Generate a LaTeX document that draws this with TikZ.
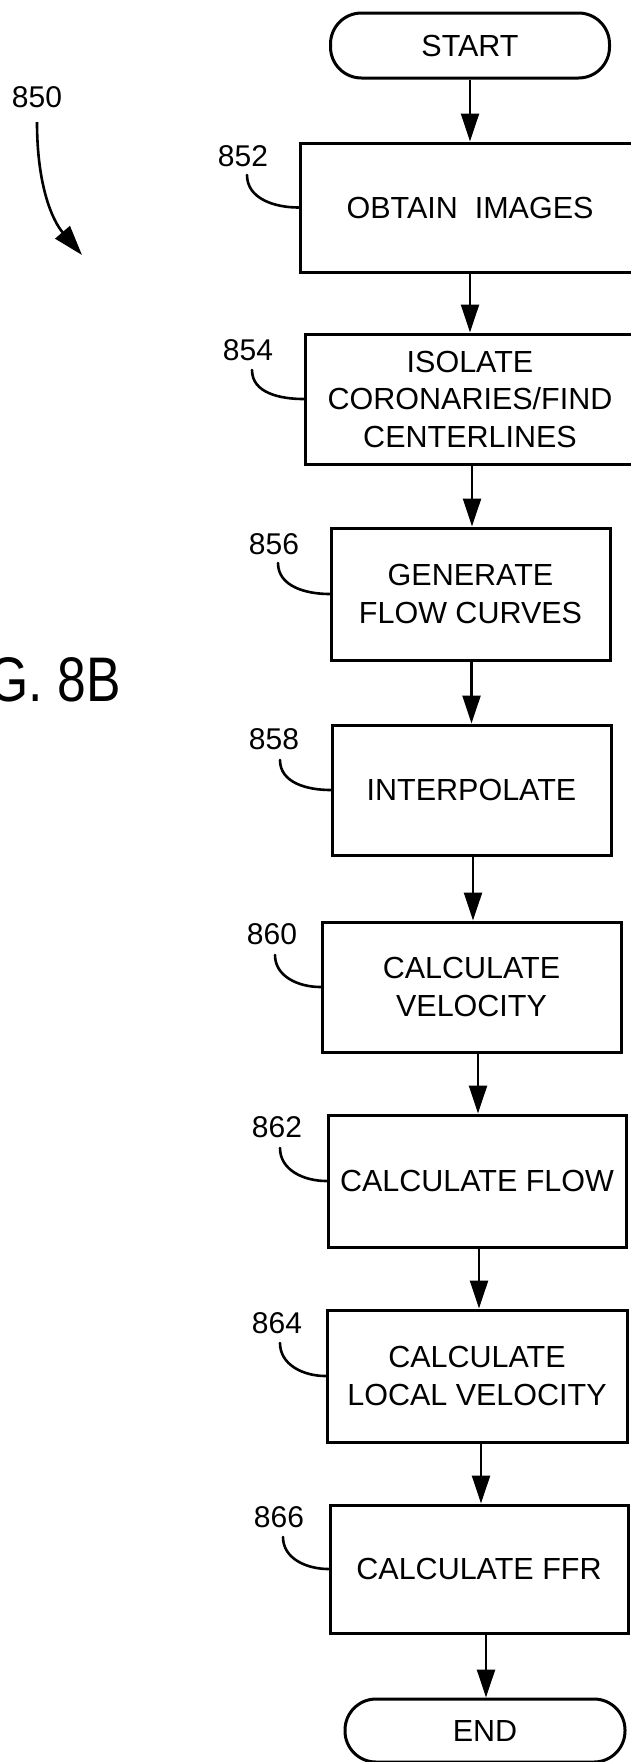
\documentclass[tikz,border=0pt]{standalone}
\usepackage{fontspec}
\setmainfont{Liberation Sans}
\usetikzlibrary{arrows.meta}
\begin{document}
\begin{tikzpicture}[x=1pt,y=-1pt,
  stepbox/.style={draw, line width=3pt, align=center, inner sep=0pt,
    font=\fontsize{30.5}{37.5}\selectfont},
  terminal/.style={stepbox, rounded corners=31pt},
  reflabel/.style={inner sep=0pt, font=\fontsize{30}{36}\selectfont},
  flow/.style={line width=2.4pt, -{Triangle[length=28pt,width=18pt]}},
  leader/.style={line width=2.6pt, line cap=round}]
  % page
  \fill[white] (0,0) rectangle (631,1762);
  \useasboundingbox (0,0) rectangle (631,1762);

  % figure title and overall reference
  \node[anchor=east, inner sep=0pt, font=\fontsize{63}{70}\selectfont] (fig) at (121,680)
    {\scalebox{0.82}[1]{FIG. 8B}};
  \node[reflabel] (r850) at (37,97) {850};
  \coordinate (a850s) at (37,122);
  \coordinate (a850e) at (82,255);
  \draw[line width=2.6pt, -{Triangle[length=30pt,width=19pt]}]
    (a850s) .. controls (37,185) and (52,220) .. (a850e);

  % steps
  \node[terminal, minimum width=279pt, minimum height=65pt] (start) at (470,45.5) {START};
  \node[stepbox, minimum width=340pt, minimum height=129pt] (b852) at (470,207.5) {OBTAIN\ \ IMAGES};
  \node[stepbox, minimum width=330pt, minimum height=130pt] (b854) at (470,399) {ISOLATE\\CORONARIES/FIND\\CENTERLINES};
  \node[stepbox, minimum width=279pt, minimum height=132pt] (b856) at (470.5,594) {GENERATE\\FLOW CURVES};
  \node[stepbox, minimum width=279pt, minimum height=130pt] (b858) at (471.5,790) {INTERPOLATE};
  \node[stepbox, minimum width=299pt, minimum height=130pt] (b860) at (471.5,987) {CALCULATE\\VELOCITY};
  \node[stepbox, minimum width=298pt, minimum height=132pt] (b862) at (477,1181) {CALCULATE FLOW};
  \node[stepbox, minimum width=300pt, minimum height=132pt] (b864) at (477,1376) {CALCULATE\\LOCAL VELOCITY};
  \node[stepbox, minimum width=298pt, minimum height=128pt] (b866) at (479,1569) {CALCULATE FFR};
  \node[terminal, minimum width=280pt, minimum height=63pt] (end) at (485,1730.5) {END};

  % connectors
  \draw[flow] (b852.north |- start.south) -- (b852.north);
  \draw[flow] (b854.north |- b852.south) -- (b854.north);
  \draw[flow] ([xshift=1.5pt]b856.north |- b854.south) -- ([xshift=1.5pt]b856.north);
  \draw[flow] (b858.north |- b856.south) -- (b858.north);
  \draw[flow] ([xshift=1.5pt]b860.north |- b858.south) -- ([xshift=1.5pt]b860.north);
  \draw[flow] ([xshift=1pt]b862.north |- b860.south) -- ([xshift=1pt]b862.north);
  \draw[flow] ([xshift=2pt]b864.north |- b862.south) -- ([xshift=2pt]b864.north);
  \draw[flow] ([xshift=2pt]b866.north |- b864.south) -- ([xshift=2pt]b866.north);
  \draw[flow] ([xshift=1pt]end.north |- b866.south) -- ([xshift=1pt]end.north);

  % reference numerals with leaders
  \node[reflabel] (r852) at (243,156) {852};
  \node[reflabel] (r854) at (248,350) {854};
  \node[reflabel] (r856) at (274,544) {856};
  \node[reflabel] (r858) at (274,739) {858};
  \node[reflabel] (r860) at (272,934) {860};
  \node[reflabel] (r862) at (277,1127) {862};
  \node[reflabel] (r864) at (277,1323) {864};
  \node[reflabel] (r866) at (279,1517) {866};
  \coordinate (l852) at (247,175);
  \coordinate (l854) at (252,370);
  \coordinate (l856) at (278,563);
  \coordinate (l858) at (280,760);
  \coordinate (l860) at (275,955);
  \coordinate (l862) at (280,1148);
  \coordinate (l864) at (280,1343);
  \coordinate (l866) at (283,1537);
  \foreach \n in {852,854,856,858,860,862,864,866}
    \draw[leader] (l\n) to[out=-90,in=180] (b\n.west);
\end{tikzpicture}
\end{document}
